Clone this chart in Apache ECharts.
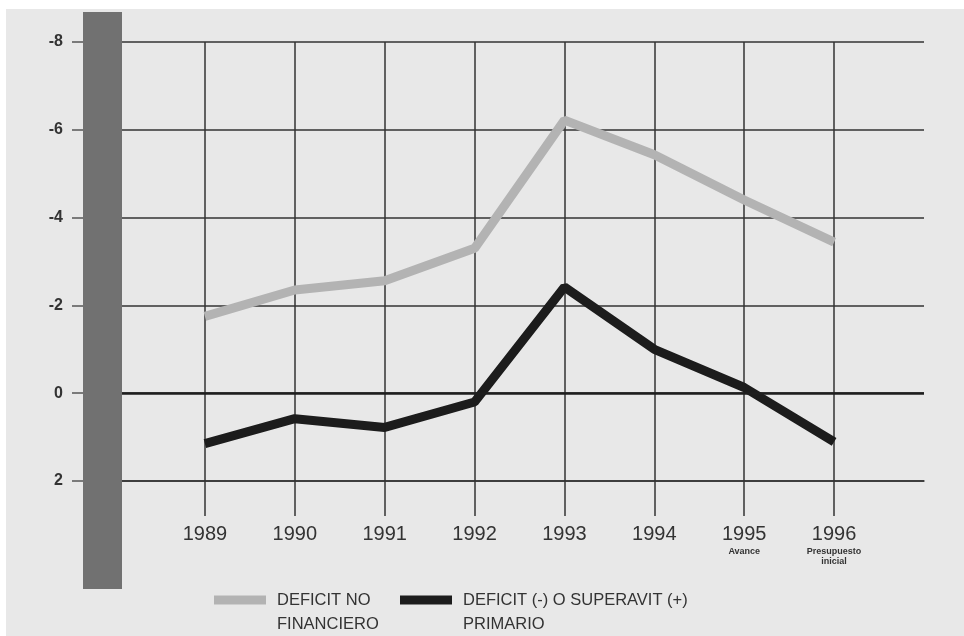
<!DOCTYPE html>
<html>
<head>
<meta charset="utf-8">
<script src="https://cdn.jsdelivr.net/npm/echarts@6/dist/echarts.min.js"></script>
<style>
  html, body { margin: 0; padding: 0; background: #fff; }
  .bg { position: absolute; left: 6px; top: 9px; right: 0; bottom: 0; background: #e8e8e8; }
  #chart { position: absolute; left: 0; top: 0; width: 964px; height: 636px; }
</style>
</head>
<body>
<div class="bg"></div>
<div id="chart"></div>
<script>
// años y notas bajo el eje
const years = [1989, 1990, 1991, 1992, 1993, 1994, 1995, 1996];
const yearNotes = ['', '', '', '', '', '', 'Avance', 'Presupuesto\ninicial'];

// % del PIB, negativo = deficit (eje invertido)
const deficitNoFinanciero = [-1.75, -2.35, -2.56, -3.3, -6.22, -5.43, -4.4, -3.44];
const deficitPrimario = [1.15, 0.58, 0.78, 0.2, -2.42, -1.0, -0.13, 1.11];

const nameA = 'DEFICIT NO\nFINANCIERO';
const nameB = 'DEFICIT (-) O SUPERAVIT (+)\nPRIMARIO';

const sans = "'Liberation Sans', Arial, sans-serif";
const gridColor = '#333';

var myChart = echarts.init(document.getElementById('chart'));

function pairs(vals) {
  return years.map(function (y, i) { return [y, vals[i]]; });
}

// empty first line so the swatch sits next to the first text line
var legendBase = {
  top: 564, padding: 0,
  icon: 'rect', itemWidth: 52, itemHeight: 9,
  formatter: function (name) { return '\n' + name; },
  textStyle: {
    fontFamily: sans,
    fontSize: 16.5,
    color: '#333',
    lineHeight: 24,
    padding: [0, 0, 0, 6]
  }
};

var option = {
  animation: false,
  backgroundColor: 'transparent',
  grid: { left: 115, right: 40, top: 42, bottom: 155 },
  legend: [
    Object.assign({ data: [nameA], left: 214 }, legendBase),
    Object.assign({ data: [nameB], left: 400 }, legendBase)
  ],
  xAxis: {
    type: 'value',
    min: 1988,
    max: 1997,
    interval: 1,
    axisLine: { show: true, onZero: false, lineStyle: { color: gridColor, width: 1.5 } },
    axisTick: {
      show: true,
      customValues: years,
      length: 35,
      lineStyle: { color: gridColor, width: 1.5 }
    },
    axisLabel: {
      customValues: years,
      margin: 40,
      formatter: function (v) {
        var i = years.indexOf(v);
        var s = '{y|' + v + '}';
        if (i >= 0 && yearNotes[i]) {
          yearNotes[i].split('\n').forEach(function (t) { s += '\n{s|' + t + '}'; });
        }
        return s;
      },
      rich: {
        y: { fontFamily: sans, fontSize: 20, lineHeight: 26, color: '#333' },
        s: { fontFamily: sans, fontSize: 9, fontWeight: 'bold', lineHeight: 10, color: '#333' }
      }
    },
    splitLine: { show: true, lineStyle: { color: gridColor, width: 1.5 } }
  },
  yAxis: {
    type: 'value',
    inverse: true,
    min: -8,
    max: 2,
    interval: 2,
    offset: 32,
    axisLine: { show: false },
    axisTick: { show: true, length: 11, lineStyle: { color: '#555', width: 1.5 } },
    axisLabel: {
      margin: 20,
      fontFamily: sans,
      fontSize: 16,
      fontWeight: 'bold',
      color: '#333'
    },
    splitLine: { show: true, lineStyle: { color: gridColor, width: 1.5 } }
  },
  series: [
    {
      name: nameA,
      type: 'line',
      data: pairs(deficitNoFinanciero),
      showSymbol: false,
      color: '#b3b3b3',
      lineStyle: { width: 9, color: '#b3b3b3' },
      markLine: {
        silent: true,
        symbol: 'none',
        label: { show: false },
        lineStyle: { color: '#1e1e1e', width: 2.5, type: 'solid' },
        data: [{ yAxis: 0 }]
      },
      z: 3
    },
    {
      name: nameB,
      type: 'line',
      data: pairs(deficitPrimario),
      showSymbol: false,
      color: '#1c1c1c',
      lineStyle: { width: 9, color: '#1c1c1c' },
      z: 4
    }
  ],
  graphic: [
    {
      type: 'rect',
      shape: { x: 83, y: 12, width: 39, height: 577 },
      style: { fill: '#717171' },
      z: 100
    }
  ]
};

option && myChart.setOption(option);
</script>
</body>
</html>
